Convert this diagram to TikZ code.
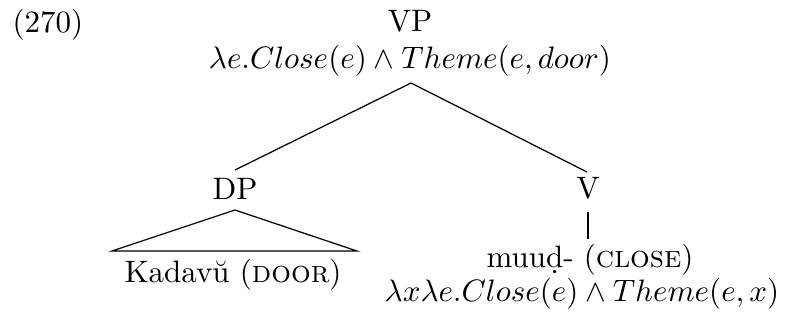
\documentclass[tikz,border=0pt]{standalone}
\begin{document}
\begin{tikzpicture}[x=0.3226pt,y=-0.3226pt,
  txt/.style={inner sep=0pt,anchor=base},
  branch/.style={line width=0.4pt}]
\useasboundingbox (0,0) rectangle (786,320);
% labels
\node[txt,anchor=base west] (num) at (12,32) {(270)};
\node[txt] (vp) at (410,31) {VP};
\node[txt] (vpsem) at (410,68) {$\lambda e.Close(e) \wedge Theme(e, door)$};
\node[txt] (dp) at (235,199) {DP};
\node[txt] (v) at (588,198) {V};
\node[txt] (kad) at (233,282) {Kadav\u{u} (\textsc{door})};
\node[txt] (muud) at (590,267) {muu\d{d}- (\textsc{close})};
\node[txt] (vsem) at (582,301) {$\lambda x \lambda e.Close(e) \wedge Theme(e, x)$};
% connector ends
\coordinate (apex) at (411,83);
\coordinate (dptop) at (235,170);
\coordinate (vtop) at (587,172);
\coordinate (tri) at (235,210);
\coordinate (tl) at (112,251);
\coordinate (tr) at (357,251);
\coordinate (vbot) at (588,212);
\coordinate (mtop) at (588,239);
% branches
\draw[branch] (apex) -- (dptop);
\draw[branch] (apex) -- (vtop);
\draw[branch] (tri) -- (tl) -- (tr) -- cycle;
\draw[branch] (vbot) -- (mtop);
\end{tikzpicture}
\end{document}
